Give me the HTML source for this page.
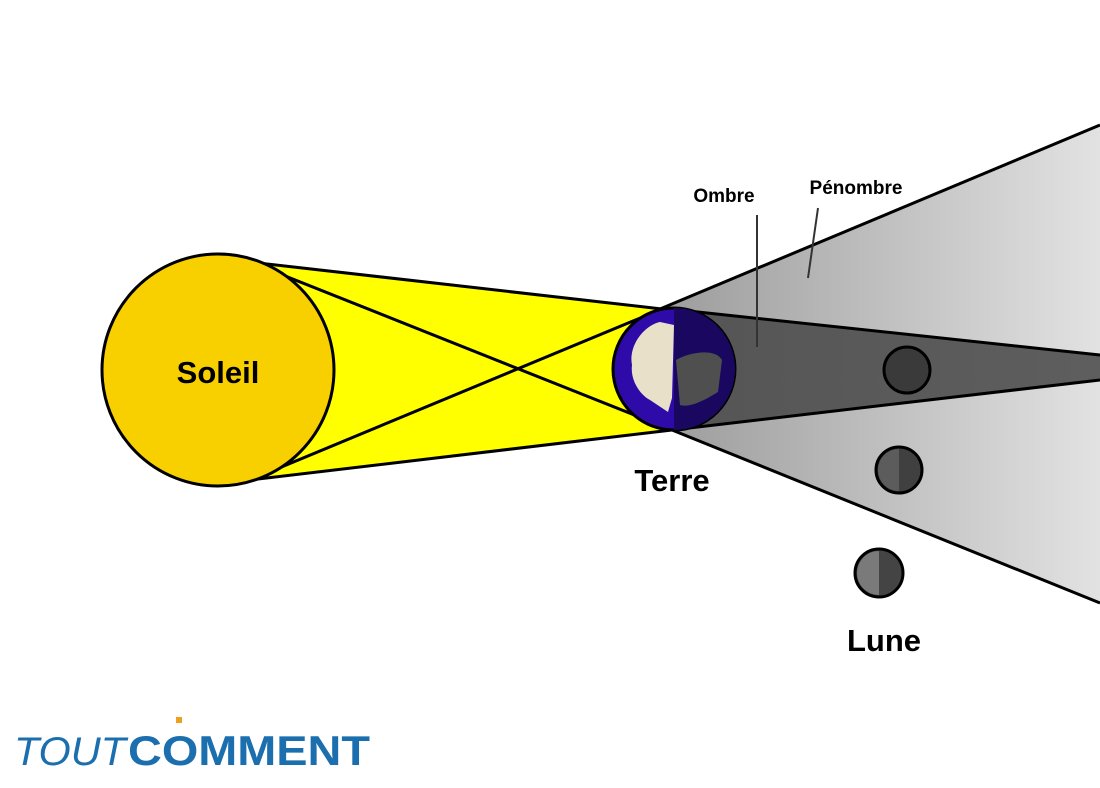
<!DOCTYPE html>
<html><head><meta charset="utf-8"><style>body{margin:0;background:#fff}svg{display:block}</style></head>
<body>
<svg width="1100" height="788" viewBox="0 0 1100 788" xmlns="http://www.w3.org/2000/svg">
<defs>
<linearGradient id="pg" x1="660" y1="0" x2="1100" y2="0" gradientUnits="userSpaceOnUse">
<stop offset="0" stop-color="#9c9c9c"/><stop offset="1" stop-color="#e2e2e2"/></linearGradient>
<linearGradient id="ug" x1="670" y1="0" x2="1100" y2="0" gradientUnits="userSpaceOnUse">
<stop offset="0" stop-color="#555"/><stop offset="1" stop-color="#5e5e5e"/></linearGradient>
</defs>
<polygon points="250,262 662,309 670,430 250,480" fill="#ffff00"/>
<polygon points="660,309 1100,125 1100,603 672,430" fill="url(#pg)"/>
<polygon points="670,309 1100,355 1100,380 672,430" fill="url(#ug)"/>
<g stroke="#000" stroke-width="3" fill="none">
<line x1="250" y1="262" x2="662" y2="309"/>
<line x1="250" y1="480" x2="672" y2="430"/>
<line x1="250" y1="262" x2="672" y2="430"/>
<line x1="250" y1="480" x2="662" y2="309"/>
<line x1="660" y1="309" x2="1100" y2="125"/>
<line x1="672" y1="430" x2="1100" y2="603"/>
<line x1="670" y1="309" x2="1100" y2="355"/>
<line x1="672" y1="430" x2="1100" y2="380"/>
</g>
<circle cx="218" cy="370" r="116" fill="#f8d000" stroke="#000" stroke-width="3"/>
<text x="218" y="383" font-family="Liberation Sans, sans-serif" font-weight="bold" font-size="31" text-anchor="middle">Soleil</text>
<circle cx="674" cy="369" r="61" fill="#2e0aa8" stroke="#000" stroke-width="3"/>
<path d="M674,308 A61,61 0 0 1 674,430 Z" fill="#1a0860"/>
<path d="M660,322 C645,325 628,345 632,365 C630,380 640,395 650,400 L668,412 L672,398 L674,325 Z" fill="#e8e0c8"/>
<path d="M676,360 C690,352 715,348 722,360 L718,392 C705,400 690,408 680,405 Z" fill="#4f4f4f"/>
<text x="672" y="491" font-family="Liberation Sans, sans-serif" font-weight="bold" font-size="31" text-anchor="middle">Terre</text>
<g stroke="#000" stroke-width="3">
<circle cx="907" cy="370" r="23" fill="#3a3a3a"/>
<circle cx="899" cy="470" r="23" fill="#404040"/>
<circle cx="879" cy="573" r="24" fill="#444"/>
</g>
<path d="M899,449 L899,491 A21,21 0 0 1 899,449Z" fill="#5c5c5c"/>
<path d="M879,551 L879,595 A22,22 0 0 1 879,551Z" fill="#7a7a7a"/>
<text x="884" y="651" font-family="Liberation Sans, sans-serif" font-weight="bold" font-size="31" text-anchor="middle">Lune</text>
<text x="724" y="202" font-family="Liberation Sans, sans-serif" font-weight="bold" font-size="19" text-anchor="middle">Ombre</text>
<text x="856" y="194" font-family="Liberation Sans, sans-serif" font-weight="bold" font-size="19" text-anchor="middle">Pénombre</text>
<line x1="757" y1="215" x2="757" y2="347" stroke="#333" stroke-width="2"/>
<line x1="818" y1="208" x2="808" y2="278" stroke="#333" stroke-width="2"/>
<text x="14" y="765" font-family="Liberation Sans, sans-serif" font-style="italic" font-size="40" fill="#1b6fae" textLength="112" lengthAdjust="spacingAndGlyphs">TOUT</text>
<text x="128" y="765" font-family="Liberation Sans, sans-serif" font-weight="bold" font-size="42" fill="#1b6fae" textLength="242" lengthAdjust="spacingAndGlyphs">COMMENT</text>
<rect x="176" y="717" width="6" height="6" fill="#f0a020"/>
</svg>
</body></html>
